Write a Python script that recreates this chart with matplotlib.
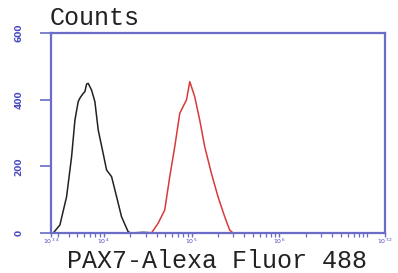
import numpy as np
import matplotlib.pyplot as plt
from matplotlib.ticker import FixedLocator, NullFormatter

# Data (log10 fluorescence, counts)
black_log = [3.426, 3.502, 3.578, 3.635, 3.673, 3.710, 3.730, 3.767, 3.786, 3.806,
             3.824, 3.862, 3.900, 3.938, 3.994, 4.033, 4.090, 4.147, 4.203, 4.278,
             4.309, 4.45, 4.60]
black_counts = [0, 24, 109, 229, 339, 394, 405, 419, 424, 447,
                449, 429, 394, 309, 239, 189, 169, 109, 49, 4,
                0, 2, 0]

red_log = [3.62, 4.0, 4.3, 4.544, 4.619, 4.695, 4.752, 4.809, 4.866, 4.903, 4.942,
           4.980, 4.999, 5.036, 5.093, 5.150, 5.226, 5.301, 5.377, 5.434, 5.472]
red_counts = [0, 0, 0, 0, 29, 69, 169, 259, 359, 379, 399,
              454, 439, 409, 339, 259, 179, 109, 49, 9, 0]

x_tick_exps = [3.4, 4, 5, 6, 7.2]
x_tick_labels = [r"$10^{3.4}$", r"$10^{4}$", r"$10^{5}$", r"$10^{6}$", r"$10^{7.2}$"]
y_ticks = [0, 200, 400, 600]

AXIS_BLUE = "#6b6bc8"
LABEL_BLUE = "#4a4ac0"

fig = plt.figure(figsize=(3.98, 2.73), dpi=100)
ax = fig.add_axes([0.128, 0.1465, 0.839, 0.7325])

ax.plot(10 ** np.array(red_log), red_counts, color="#d83a3a", lw=1.1)
ax.plot(10 ** np.array(black_log), black_counts, color="#222222", lw=1.1)

ax.set_xscale("log")
ax.set_xlim(10 ** 3.4, 10 ** 7.2)
ax.set_ylim(0, 600)

for spine in ax.spines.values():
    spine.set_color(AXIS_BLUE)
    spine.set_linewidth(1.6)

ax.set_yticks(y_ticks)
ax.set_yticklabels([str(v) for v in y_ticks], rotation=90, va="center",
                   fontsize=6.5, color=LABEL_BLUE, fontweight="bold")
ax.tick_params(axis="y", length=8, width=1.2, color=AXIS_BLUE, pad=12)

majors = [10 ** 4, 10 ** 5, 10 ** 6, 10 ** 7]
minors = [m * 10 ** k for k in range(3, 8) for m in range(2, 10)
          if 10 ** 3.4 <= m * 10 ** k <= 10 ** 7.2]
ax.xaxis.set_major_locator(FixedLocator([10 ** e for e in x_tick_exps]))
ax.set_xticklabels(x_tick_labels, fontsize=4.5, color=LABEL_BLUE)
ax.xaxis.set_minor_locator(FixedLocator(minors + majors))
ax.xaxis.set_minor_formatter(NullFormatter())
ax.tick_params(axis="x", which="major", length=3, width=1.0, color=AXIS_BLUE, pad=0)
ax.tick_params(axis="x", which="minor", length=3, width=0.9, color=AXIS_BLUE)

fig.text(0.125, 0.91, "Counts", fontsize=18, family="Liberation Mono",
         color="#222222", va="baseline")
fig.text(0.545, 0.02, "PAX7-Alexa Fluor 488", fontsize=18, family="Liberation Mono",
         color="#222222", ha="center", va="baseline")

fig.savefig("out.png", dpi=100)
